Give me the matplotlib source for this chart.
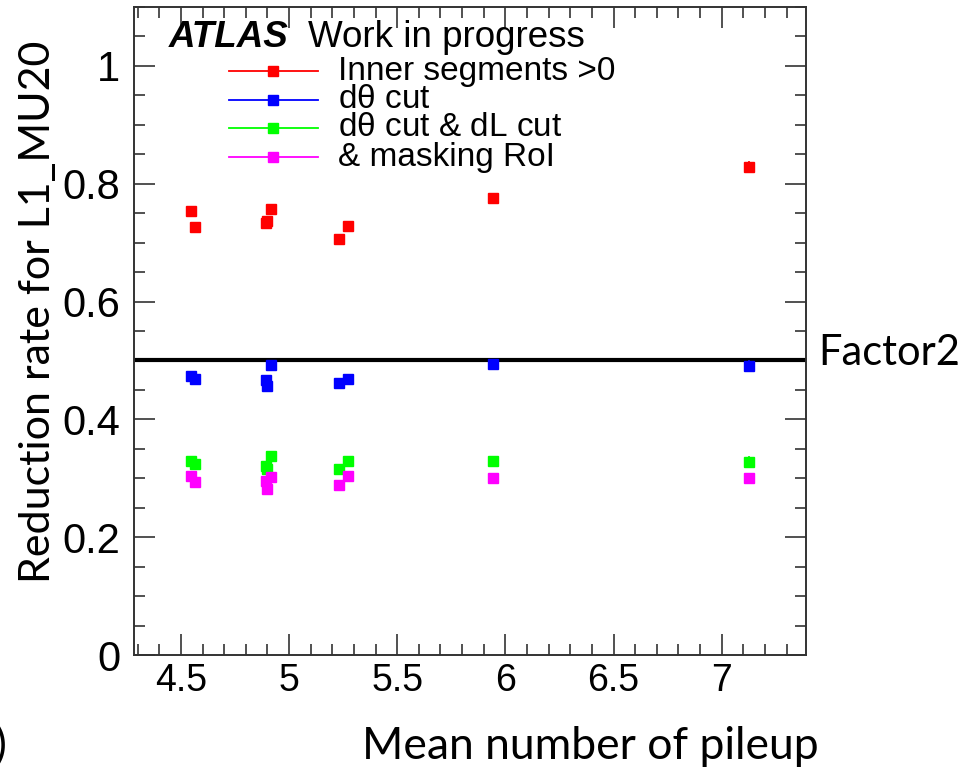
import matplotlib.pyplot as plt
from matplotlib.ticker import MultipleLocator

# mean pileup for each run
pileup = [4.545, 4.566, 4.893, 4.899, 4.916, 5.232, 5.272, 5.944, 7.126]

# reduction rates, one list per selection
rate_inner = [0.754, 0.727, 0.733, 0.737, 0.757, 0.707, 0.728, 0.776, 0.829]
rate_dtheta = [0.473, 0.468, 0.466, 0.457, 0.492, 0.461, 0.468, 0.494, 0.491]
rate_dtheta_dl = [0.330, 0.325, 0.321, 0.316, 0.338, 0.316, 0.330, 0.330, 0.328]
rate_masking = [0.304, 0.294, 0.296, 0.281, 0.303, 0.289, 0.304, 0.300, 0.300]

err_y = [0.006, 0.006, 0.007, 0.007, 0.006, 0.006, 0.006, 0.005, 0.009]

labels = ['Inner segments >0', r'd$\theta$ cut', r'd$\theta$ cut & dL cut', '& masking RoI']
colors = ['#ff0000', '#0000ff', '#00ff00', '#ff00ff']
series = [rate_inner, rate_dtheta, rate_dtheta_dl, rate_masking]

factor_line = 0.5

root_font = 'Liberation Sans'
slide_font = 'Lato'
plt.rcParams['mathtext.fontset'] = 'custom'
plt.rcParams['mathtext.rm'] = root_font
plt.rcParams['mathtext.it'] = root_font

fig = plt.figure(figsize=(9.69, 7.67), dpi=100)
ax = fig.add_axes([0.1383, 0.146, 0.6935, 0.8449])

for vals, col in zip(series, colors):
    ax.errorbar(pileup, vals, yerr=err_y, xerr=0.012, fmt='s', color=col,
                ms=6.5, elinewidth=1.2, capsize=0, zorder=3)

ax.axhline(factor_line, color='black', lw=3, zorder=2)

ax.set_xlim(4.283, 7.39)
ax.set_ylim(0, 1.1)
ax.xaxis.set_minor_locator(MultipleLocator(0.1))
ax.yaxis.set_minor_locator(MultipleLocator(0.05))
ax.set_xticks([4.5, 5, 5.5, 6, 6.5, 7])
ax.set_xticklabels(['4.5', '5', '5.5', '6', '6.5', '7'])
ax.set_yticks([0, 0.2, 0.4, 0.6, 0.8, 1])
ax.set_yticklabels(['0', '0.2', '0.4', '0.6', '0.8', '1'])

ax.tick_params(which='both', direction='in', top=True, right=True, color='#333333', width=1.2)
ax.tick_params(which='major', length=15)
ax.tick_params(which='minor', length=8)
ax.tick_params(axis='y', which='major', pad=10)
ax.tick_params(axis='x', which='major', pad=6)
for lab in ax.get_yticklabels():
    lab.set_fontfamily(root_font)
    lab.set_fontsize(30)
for lab in ax.get_xticklabels():
    lab.set_fontfamily(root_font)
    lab.set_fontsize(27)
for s in ax.spines.values():
    s.set_color('#333333')
    s.set_linewidth(1.4)

# ATLAS label
ax.text(0.051, 0.938, 'ATLAS', transform=ax.transAxes, fontfamily=root_font,
        fontsize=26.5, fontweight='bold', fontstyle='italic', va='baseline')
ax.text(0.259, 0.938, 'Work in progress', transform=ax.transAxes, fontfamily=root_font,
        fontsize=26.5, va='baseline')

# legend drawn by hand, ROOT style (line through marker)
leg_y = [0.9012, 0.8565, 0.8133, 0.7685]
for ly, col, lab in zip(leg_y, colors, labels):
    ax.plot([0.1414, 0.2738], [ly, ly], color=col, lw=1.3, transform=ax.transAxes, clip_on=False)
    ax.plot([0.2068], [ly], 's', color=col, ms=6.5, transform=ax.transAxes, clip_on=False)
    ax.text(0.3036, ly, lab, transform=ax.transAxes, fontfamily=root_font,
            fontsize=24, va='center', ha='left')

# slide annotations
fig.text(818 / 969, 1 - 353 / 767, 'Factor2', fontfamily=slide_font, fontsize=30, va='center', ha='left')
fig.text(0.039, 1 - 312 / 767, 'Reduction rate for L1_MU20', fontfamily=slide_font, fontsize=31,
         rotation=90, va='center', ha='center')
fig.text(590 / 969, 1 - 759 / 767, 'Mean number of pileup', fontfamily=slide_font, fontsize=32,
         va='baseline', ha='center')
fig.text(-0.006, 1 - 759 / 767, ')', fontfamily=slide_font, fontsize=32, va='baseline', ha='left')

fig.savefig('out.png', dpi=100)
